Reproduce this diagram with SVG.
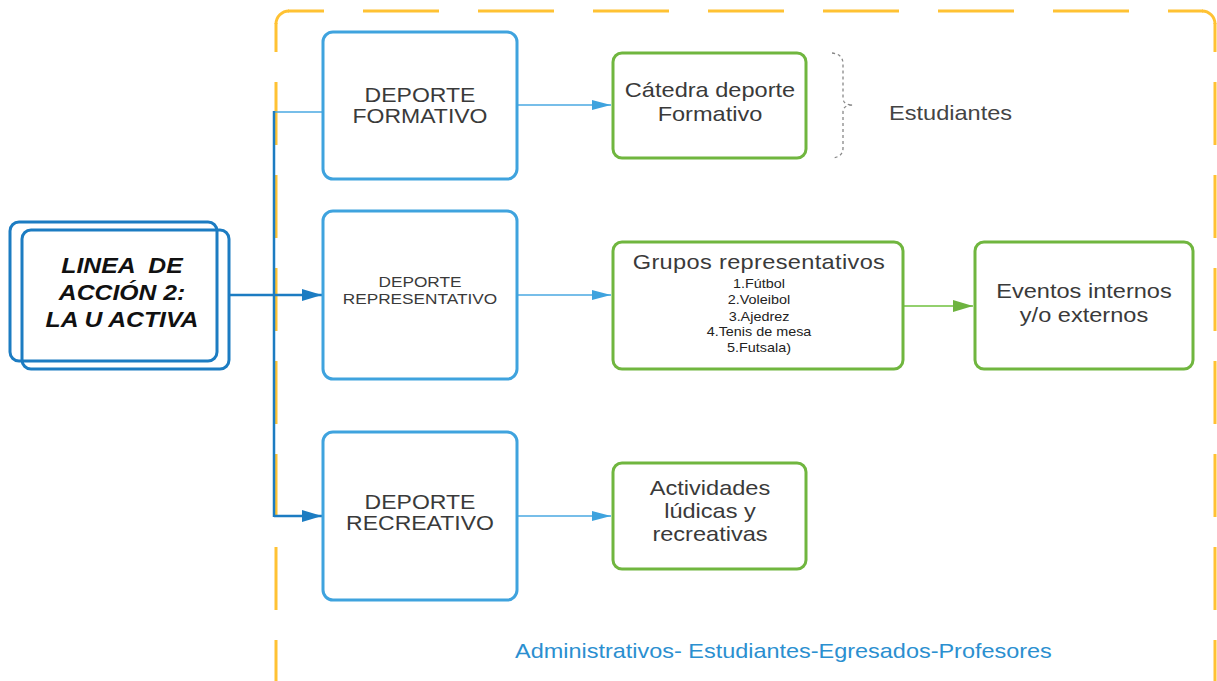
<svg xmlns="http://www.w3.org/2000/svg" width="1217" height="681" viewBox="0 0 1217 681">
<style>
text{font-family:"Liberation Sans",Arial,sans-serif;fill:#3a3a3a}
.blue{fill:#fff;stroke:#3fa3de;stroke-width:3}
.green{fill:#fff;stroke:#70b63f;stroke-width:3}
.main{fill:none;stroke:#1c7cc2;stroke-width:3}
.lbl{font-size:20px;text-anchor:middle}
.sm{font-size:12.5px;text-anchor:middle;fill:#222}
.orange{fill:none;stroke:#ffc233;stroke-width:3}
.dk{fill:none;stroke:#1c7cc2;stroke-width:2.5}
.lt{fill:none;stroke:#4aa9e2;stroke-width:1.6}
.gr{fill:none;stroke:#93d06e;stroke-width:1.8}
</style>
<defs>
<marker id="ahDark" markerUnits="userSpaceOnUse" markerWidth="22" markerHeight="14" refX="20" refY="6" orient="auto"><path d="M0,0 L20,6 L0,12 z" fill="#1c7cc2"/></marker>
<marker id="ahLight" markerUnits="userSpaceOnUse" markerWidth="22" markerHeight="12" refX="19" refY="5" orient="auto"><path d="M0,0 L19,5 L0,10 z" fill="#3fa3de"/></marker>
<marker id="ahGreen" markerUnits="userSpaceOnUse" markerWidth="22" markerHeight="14" refX="20" refY="6" orient="auto"><path d="M0,0 L20,6 L0,12 z" fill="#6db33f"/></marker>
</defs>

<g id="frame">
<path class="orange" d="M276,23 V690" stroke-dasharray="63 30" stroke-dashoffset="34"/>
<path class="orange" d="M1215,23 V690" stroke-dasharray="63 30" stroke-dashoffset="34"/>
<path class="orange" d="M288,11 H1203" stroke-dasharray="76 39" stroke-dashoffset="40"/>
<path class="orange" d="M276,24 A13,13 0 0 1 289,11"/>
<path class="orange" d="M1202,11 A13,13 0 0 1 1215,24"/>
</g>

<g id="connectors">
<path class="lt" d="M274,112 H323"/>
<path class="dk" d="M274,111 V517"/>
<path class="dk" d="M229,295 H274"/>
<path class="dk" d="M274,295 H322" marker-end="url(#ahDark)"/>
<path class="dk" d="M274,516 H322" marker-end="url(#ahDark)"/>
<path class="lt" d="M517,105 H611" marker-end="url(#ahLight)"/>
<path class="lt" d="M517,295 H611" marker-end="url(#ahLight)"/>
<path class="lt" d="M517,516 H611" marker-end="url(#ahLight)"/>
<path class="gr" d="M903,306 H973" marker-end="url(#ahGreen)"/>
</g>

<g id="linea">
<rect class="main" x="10" y="222" width="207" height="139" rx="9"/>
<rect class="main" x="22" y="230" width="207" height="139" rx="9"/>
<g transform="translate(122,0) scale(1.15,1)" style="font-weight:bold;font-style:italic;font-size:21.5px;text-anchor:middle">
<text x="0" y="273" style="white-space:pre;fill:#111">LINEA  DE</text>
<text x="0" y="300" style="fill:#111">ACCIÓN 2:</text>
<text x="0" y="327" style="fill:#111">LA U ACTIVA</text>
</g>
</g>

<g id="formativo">
<rect class="blue" x="323" y="32" width="194" height="147" rx="10"/>
<g transform="translate(420,0) scale(1.15,1)">
<text class="lbl" x="0" y="102">DEPORTE</text>
<text class="lbl" x="0" y="123">FORMATIVO</text>
</g>
</g>

<g id="representativo">
<rect class="blue" x="323" y="211" width="194" height="168" rx="10"/>
<g transform="translate(420,0) scale(1.15,1)">
<text class="lbl" x="0" y="287" style="font-size:15px">DEPORTE</text>
<text class="lbl" x="0" y="304" style="font-size:15px">REPRESENTATIVO</text>
</g>
</g>

<g id="recreativo">
<rect class="blue" x="323" y="432" width="194" height="168" rx="10"/>
<g transform="translate(420,0) scale(1.15,1)">
<text class="lbl" x="0" y="509">DEPORTE</text>
<text class="lbl" x="0" y="530">RECREATIVO</text>
</g>
</g>

<g id="catedra">
<rect class="green" x="613" y="53" width="193" height="105" rx="9"/>
<g transform="translate(710,0) scale(1.15,1)">
<text class="lbl" x="0" y="97" style="font-size:20.5px">Cátedra deporte</text>
<text class="lbl" x="0" y="121" style="font-size:20.5px">Formativo</text>
</g>
</g>

<g id="grupos">
<rect class="green" x="613" y="242" width="290" height="127" rx="9"/>
<g transform="translate(759,0) scale(1.15,1)">
<text class="lbl" x="0" y="269" style="font-size:20.5px;letter-spacing:0.3px">Grupos representativos</text>
<text class="sm" x="0" y="288">1.Fútbol</text>
<text class="sm" x="0" y="304">2.Voleibol</text>
<text class="sm" x="0" y="321">3.Ajedrez</text>
<text class="sm" x="0" y="336">4.Tenis de mesa</text>
<text class="sm" x="0" y="352">5.Futsala)</text>
</g>
</g>

<g id="eventos">
<rect class="green" x="975" y="242" width="218" height="127" rx="9"/>
<g transform="translate(1084,0) scale(1.15,1)">
<text class="lbl" x="0" y="298" style="font-size:20.5px">Eventos internos</text>
<text class="lbl" x="0" y="322" style="font-size:20.5px">y/o externos</text>
</g>
</g>

<g id="actividades">
<rect class="green" x="613" y="463" width="193" height="106" rx="9"/>
<g transform="translate(710,0) scale(1.15,1)">
<text class="lbl" x="0" y="495" style="font-size:20.5px">Actividades</text>
<text class="lbl" x="0" y="518" style="font-size:20.5px">lúdicas y</text>
<text class="lbl" x="0" y="541" style="font-size:20.5px">recreativas</text>
</g>
</g>

<g id="estudiantes">
<path d="M832,53 Q843,54 843,64 V98 Q843,105 853,105 Q843,105 843,112 V148 Q843,157 832,158" fill="none" stroke="#888" stroke-width="1.3" stroke-dasharray="3 3"/>
<g transform="translate(889,0) scale(1.15,1)">
<text x="0" y="120" style="font-size:20.5px;fill:#444">Estudiantes</text>
</g>
</g>

<g id="publico">
<g transform="translate(515,0) scale(1.15,1)">
<text x="0" y="658" style="font-size:20.4px;fill:#2b8fd0">Administrativos- Estudiantes-Egresados-Profesores</text>
</g>
</g>
</svg>
